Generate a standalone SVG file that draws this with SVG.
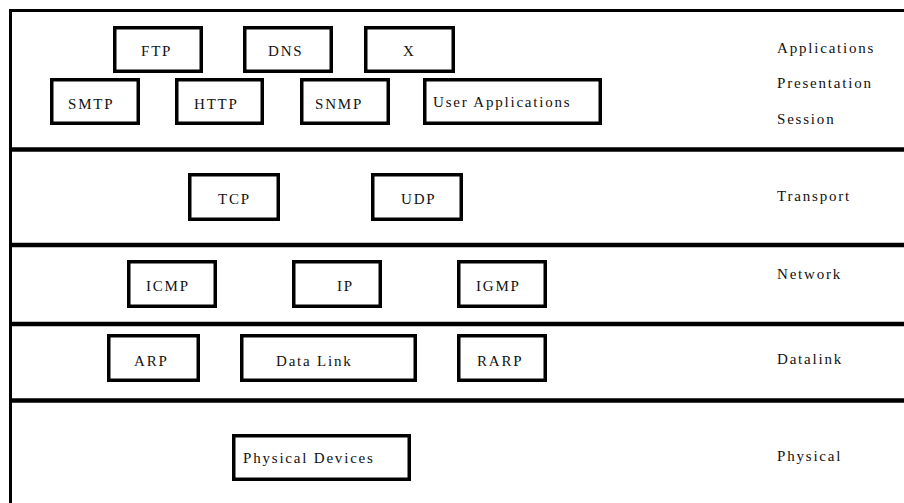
<svg xmlns="http://www.w3.org/2000/svg" width="904" height="503" viewBox="0 0 904 503">
<style>
.frame{fill:none;stroke:#000;stroke-width:3}
.div{stroke:#000;stroke-width:4.5}
.box rect{fill:#fff;stroke:#000;stroke-width:3.5}
text{font-family:"Liberation Serif","DejaVu Serif",serif;font-size:15px;letter-spacing:1.8px;fill:#111}
</style>
<rect width="904" height="503" fill="#fff"/>
<g id="frame">
<path class="frame" d="M10.5,503 V10.5 H904"/>
<line class="div" x1="9" y1="149.5" x2="904" y2="149.5"/>
<line class="div" x1="9" y1="245" x2="904" y2="245"/>
<line class="div" x1="9" y1="324" x2="904" y2="324"/>
<line class="div" x1="9" y1="400.5" x2="904" y2="400.5"/>
</g>
<g id="layer-labels">
<text x="777" y="53">Applications</text>
<text x="777" y="88">Presentation</text>
<text x="777" y="124">Session</text>
<text x="777" y="201">Transport</text>
<text x="777" y="279">Network</text>
<text x="777" y="364">Datalink</text>
<text x="777" y="461">Physical</text>
</g>
<g id="connectors"></g>
<g id="ftp" class="box"><rect x="114.75" y="27.75" width="86.5" height="43.5"/><text x="141" y="56">FTP</text></g>
<g id="dns" class="box"><rect x="244.75" y="27.75" width="86.5" height="43.5"/><text x="268" y="56">DNS</text></g>
<g id="x" class="box"><rect x="365.75" y="27.75" width="87.5" height="43.5"/><text x="403" y="56">X</text></g>
<g id="smtp" class="box"><rect x="51.75" y="79.75" width="86.5" height="43.5"/><text x="68" y="109">SMTP</text></g>
<g id="http" class="box"><rect x="176.75" y="79.75" width="85.5" height="43.5"/><text x="194" y="109">HTTP</text></g>
<g id="snmp" class="box"><rect x="301.75" y="79.75" width="86.5" height="43.5"/><text x="315" y="109">SNMP</text></g>
<g id="userapps" class="box"><rect x="424.75" y="79.75" width="175.5" height="43.5"/><text x="433" y="107">User Applications</text></g>
<g id="tcp" class="box"><rect x="189.75" y="174.75" width="88.5" height="44.5"/><text x="218" y="204">TCP</text></g>
<g id="udp" class="box"><rect x="372.75" y="174.75" width="88.5" height="44.5"/><text x="401" y="204">UDP</text></g>
<g id="icmp" class="box"><rect x="128.75" y="261.75" width="86.5" height="44.5"/><text x="146" y="291">ICMP</text></g>
<g id="ip" class="box"><rect x="293.75" y="261.75" width="86.5" height="44.5"/><text x="337" y="291">IP</text></g>
<g id="igmp" class="box"><rect x="458.75" y="261.75" width="86.5" height="44.5"/><text x="476" y="291">IGMP</text></g>
<g id="arp" class="box"><rect x="108.75" y="335.75" width="89.5" height="44.5"/><text x="134" y="366">ARP</text></g>
<g id="datalink" class="box"><rect x="241.75" y="335.75" width="173.5" height="44.5"/><text x="276" y="366">Data Link</text></g>
<g id="rarp" class="box"><rect x="458.75" y="335.75" width="86.5" height="44.5"/><text x="477" y="366">RARP</text></g>
<g id="physdev" class="box"><rect x="233.75" y="435.75" width="175.5" height="43.5"/><text x="243" y="463">Physical Devices</text></g>
</svg>
